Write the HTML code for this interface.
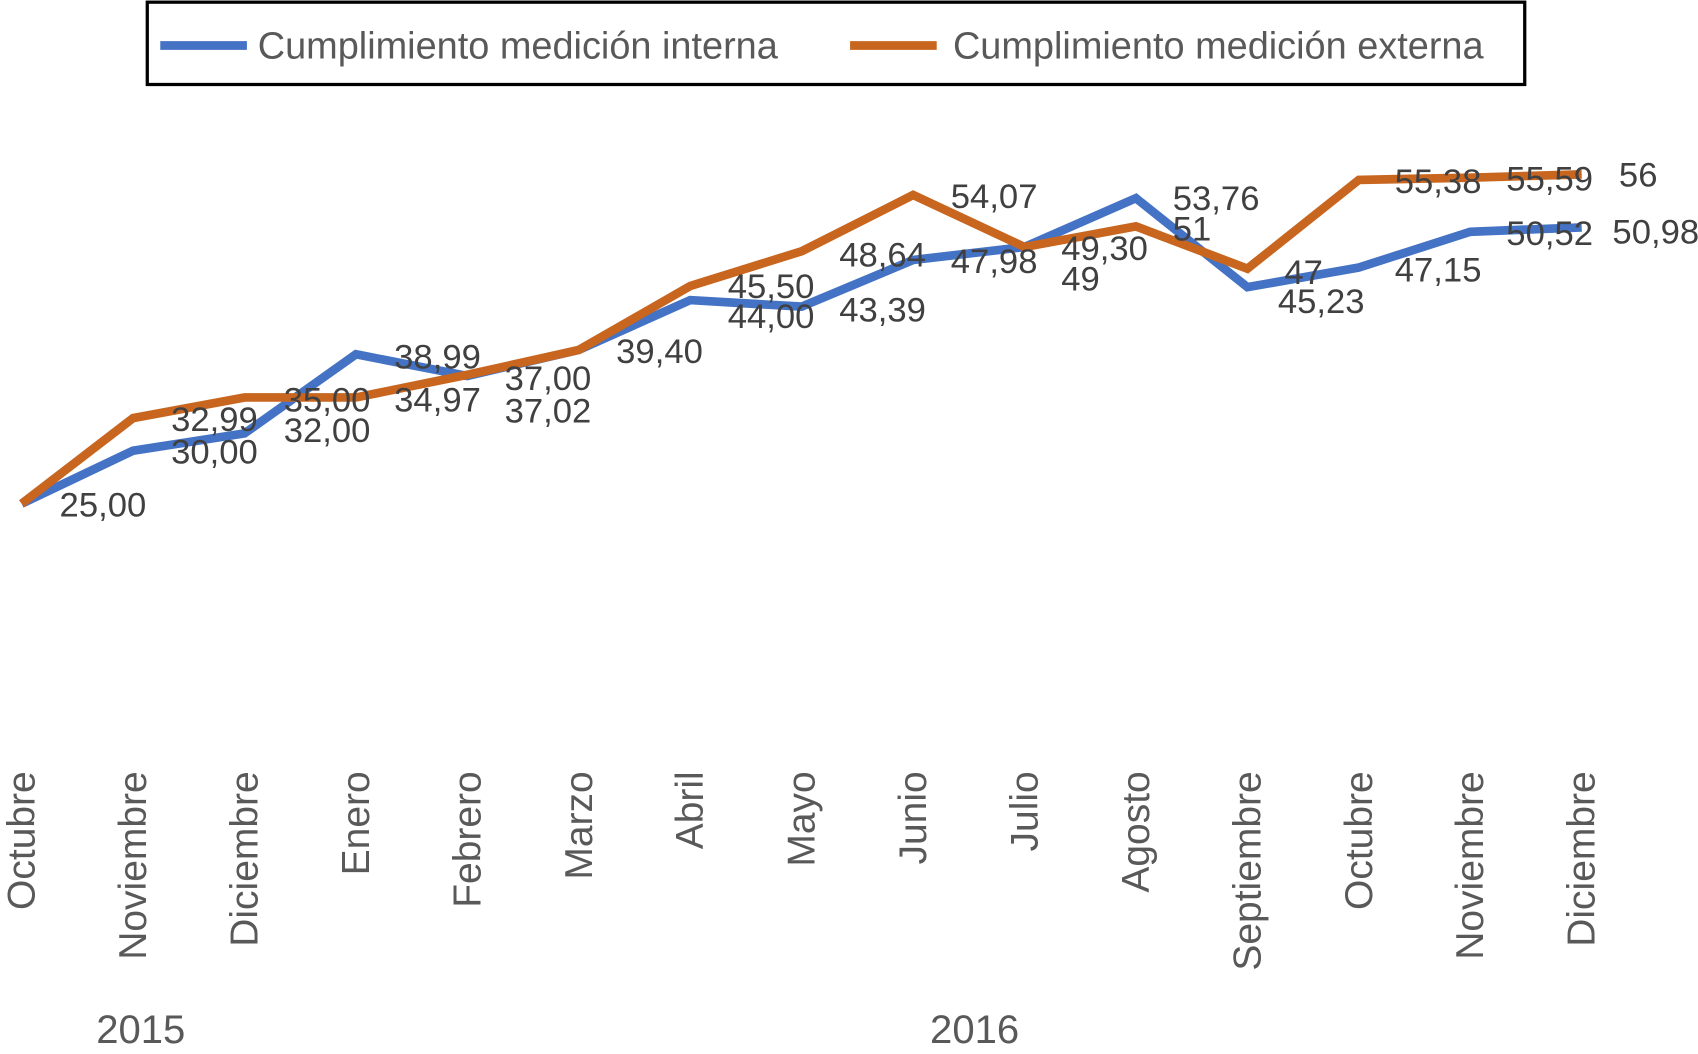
<!DOCTYPE html>
<html><head><meta charset="utf-8"><style>
html,body{margin:0;padding:0;background:#fff;}
svg{display:block;}
text{font-family:"Liberation Sans",Arial,sans-serif;}
</style></head><body>
<svg id="chart" width="1698" height="1054" viewBox="0 0 1568 973" preserveAspectRatio="none" xmlns="http://www.w3.org/2000/svg">
<g>
<rect x="136" y="2" width="1272" height="76" fill="#fff" stroke="#000" stroke-width="3"/>
<line x1="148" y1="42" x2="228" y2="42" stroke="#4472C4" stroke-width="8"/>
<text x="238" y="54" font-size="35" fill="#595959">Cumplimiento medición interna</text>
<line x1="785" y1="42" x2="865" y2="42" stroke="#C8661F" stroke-width="8"/>
<text x="880" y="54" font-size="35" fill="#595959">Cumplimiento medición externa</text>
</g>
<g id="plot"></g>
<g id="labels" font-size="32" fill="#404040">
<text x="55" y="477">25,00</text>
<text x="158" y="398">32,99</text><text x="158" y="428">30,00</text>
<text x="262" y="380">35,00</text><text x="262" y="408">32,00</text>
<text x="364" y="340">38,99</text><text x="364" y="380">34,97</text>
<text x="466" y="360">37,00</text><text x="466" y="390">37,02</text>
<text x="569" y="335">39,40</text>
<text x="672" y="275">45,50</text><text x="672" y="303">44,00</text>
<text x="775" y="246">48,64</text><text x="775" y="297">43,39</text>
<text x="878" y="192">54,07</text><text x="878" y="252">47,98</text>
<text x="980" y="240">49,30</text><text x="980" y="268">49</text>
<text x="1083" y="194">53,76</text><text x="1083" y="222">51</text>
<text x="1186" y="262">47</text><text x="1180" y="289">45,23</text>
<text x="1288" y="178">55,38</text><text x="1288" y="260">47,15</text>
<text x="1391" y="176">55,59</text><text x="1391" y="226">50,52</text>
<text x="1495" y="172">56</text><text x="1489" y="225">50,98</text>
</g>
<text x="130" y="963" font-size="37" fill="#595959" text-anchor="middle">2015</text>
<text x="900" y="963" font-size="37" fill="#595959" text-anchor="middle">2016</text>
</svg>
<script>
const months = ["Octubre","Noviembre","Diciembre","Enero","Febrero","Marzo","Abril","Mayo","Junio","Julio","Agosto","Septiembre","Octubre","Noviembre","Diciembre"];
const interna = [25,29.14,30.49,36.66,34.97,37.0,40.89,40.38,44.02,45.03,48.84,41.9,43.43,46.22,46.56];
const externa = [25,31.68,33.29,33.29,35.06,37.0,41.99,44.7,49.09,45.03,46.64,43.34,50.27,50.44,50.7];
const NS="http://www.w3.org/2000/svg";
function xs(i){return 20+i*102.9;}
function ys(v){return 465-(v-25)*11.83;}
const plot=document.getElementById('plot');
function line(vals,color,name){
  const p=document.createElementNS(NS,'polyline');
  p.setAttribute('points',vals.map((v,i)=>xs(i)+','+ys(v)).join(' '));
  p.setAttribute('fill','none');p.setAttribute('stroke',color);
  p.setAttribute('stroke-width','8');p.setAttribute('stroke-linejoin','miter');
  
  
  plot.appendChild(p);
}
line(interna,'#4472C4','series-interna');
line(externa,'#C8661F','series-externa');
months.forEach((m,i)=>{
  const t=document.createElementNS(NS,'text');
  const x=xs(i)+12,y=712;
  t.setAttribute('x',x);t.setAttribute('y',y);
  t.setAttribute('transform','rotate(-90 '+x+' '+y+')');
  t.setAttribute('text-anchor','end');t.setAttribute('font-size','36');t.setAttribute('fill','#595959');
  t.textContent=m;
  
  
  plot.appendChild(t);
});
</script>
</body></html>
